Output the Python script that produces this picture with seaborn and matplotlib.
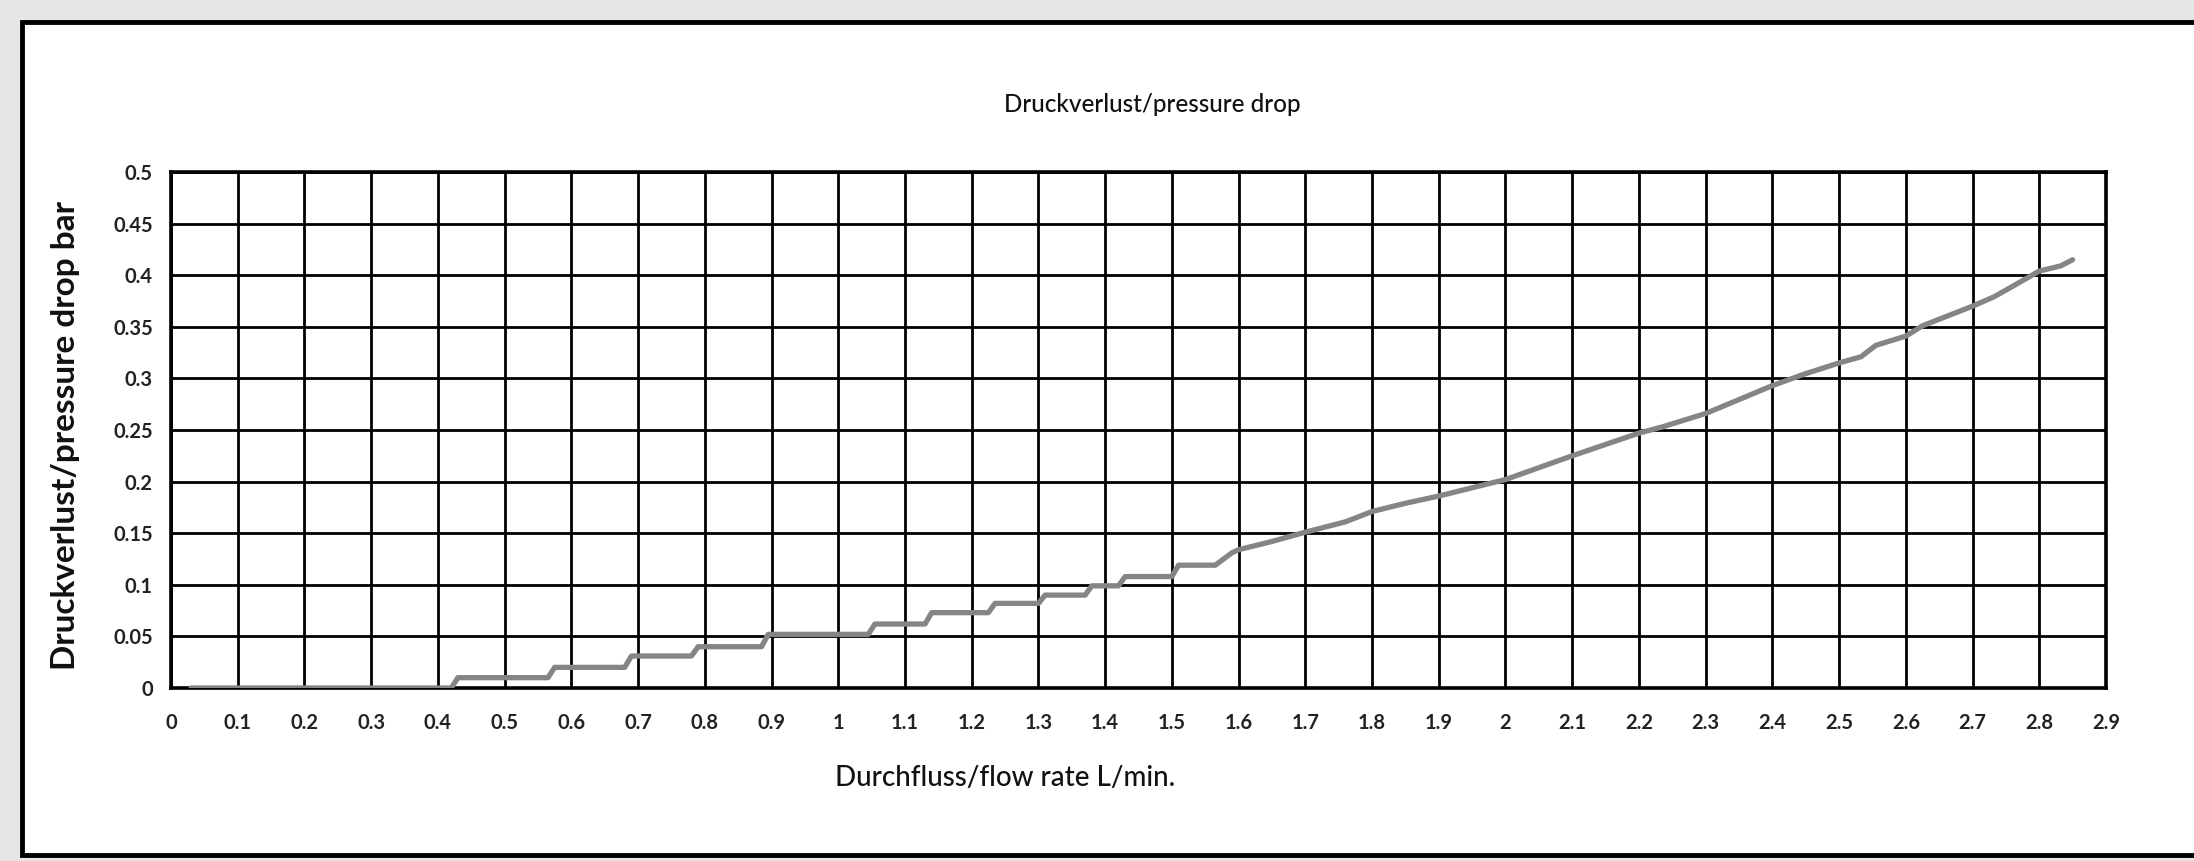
import numpy as np
import pandas as pd
import matplotlib
matplotlib.use("Agg")
import matplotlib.pyplot as plt
from matplotlib.patches import Rectangle
import seaborn as sns

# ---- data ----
flow = [0.03, 0.42, 0.43, 0.565, 0.575, 0.68, 0.69, 0.78, 0.79, 0.885, 0.895,
        1.045, 1.055, 1.13, 1.14, 1.225, 1.235, 1.30, 1.31, 1.37, 1.38, 1.42,
        1.43, 1.50, 1.51, 1.565, 1.59, 1.60, 1.65, 1.70, 1.76, 1.80, 1.85,
        1.90, 1.95, 2.00, 2.10, 2.20, 2.235, 2.30, 2.40, 2.447, 2.50, 2.533,
        2.555, 2.60, 2.625, 2.70, 2.732, 2.754, 2.80, 2.832, 2.85]
pressure = [0.0, 0.0, 0.010, 0.010, 0.020, 0.020, 0.031, 0.031, 0.040, 0.040,
            0.052, 0.052, 0.062, 0.062, 0.073, 0.073, 0.082, 0.082, 0.090,
            0.090, 0.099, 0.099, 0.108, 0.108, 0.119, 0.119, 0.131, 0.134,
            0.142, 0.151, 0.161, 0.171, 0.179, 0.186, 0.194, 0.202, 0.225,
            0.247, 0.253, 0.266, 0.293, 0.304, 0.315, 0.321, 0.332, 0.341,
            0.351, 0.370, 0.379, 0.387, 0.404, 0.409, 0.415]

x_ticks = [round(0.1 * i, 1) for i in range(30)]
x_tick_labels = ["0", "0.1", "0.2", "0.3", "0.4", "0.5", "0.6", "0.7", "0.8", "0.9",
                 "1", "1.1", "1.2", "1.3", "1.4", "1.5", "1.6", "1.7", "1.8", "1.9",
                 "2", "2.1", "2.2", "2.3", "2.4", "2.5", "2.6", "2.7", "2.8", "2.9"]
y_ticks = [0, 0.05, 0.1, 0.15, 0.2, 0.25, 0.3, 0.35, 0.4, 0.45, 0.5]
y_tick_labels = ["0", "0.05", "0.1", "0.15", "0.2", "0.25", "0.3", "0.35", "0.4", "0.45", "0.5"]

title = "Druckverlust/pressure drop"
x_label = "Durchfluss/flow rate L/min."
y_label = "Druckverlust/pressure drop bar"

df = pd.DataFrame({"flow": flow, "pressure": pressure})

sns.set_style("white")
plt.rcParams["font.family"] = ["Lato", "DejaVu Sans"]

W, H = 2194, 861
fig = plt.figure(figsize=(W / 100, H / 100), dpi=100)
fig.patch.set_facecolor("#e6e6e6")

# outer white frame (drawn behind the axes)
frame = Rectangle((22 / W, 1 - 855 / H), 1.2, (855 - 22) / H,
                  transform=fig.transFigure, facecolor="white",
                  edgecolor="black", linewidth=3.5, zorder=-10)
fig.patches.append(frame)

ax = fig.add_axes([171 / W, 1 - 688 / H, (2106 - 171) / W, (688 - 172) / H])
ax.set_zorder(5)
ax.set_facecolor("white")

sns.lineplot(data=df, x="flow", y="pressure", ax=ax, color="#858585",
             linewidth=3.8, sort=False, estimator=None, zorder=5)

ax.set_xlim(0, 2.9)
ax.set_ylim(0, 0.5)
ax.set_xticks(x_ticks)
ax.set_xticklabels(x_tick_labels)
ax.set_yticks(y_ticks)
ax.set_yticklabels(y_tick_labels)
ax.set_xlabel("")
ax.set_ylabel("")

ax.grid(True, color="black", linewidth=2.0, zorder=1)
ax.set_axisbelow(True)
for s in ax.spines.values():
    s.set_color("black")
    s.set_linewidth(2.6)

ax.tick_params(axis="x", direction="out", length=7, width=2, color="#888888",
               pad=11, labelsize=14.5)
ax.tick_params(axis="y", length=0, pad=13, labelsize=14.5)
for lab in ax.get_xticklabels() + ax.get_yticklabels():
    lab.set_fontweight("bold")
    lab.set_color("#222222")

fig.text(1152 / W, 1 - 105 / H, title, ha="center", va="center",
         fontsize=17.5, fontweight="medium", color="#111111")
fig.text(1005 / W, 1 - 778 / H, x_label, ha="center", va="center",
         fontsize=20, fontweight="medium", color="#111111")
fig.text(66 / W, 1 - 435 / H, y_label, ha="center", va="center",
         rotation=90, fontsize=24, fontweight="bold", color="#111111")

fig.savefig("out.png", dpi=100, facecolor=fig.get_facecolor())
